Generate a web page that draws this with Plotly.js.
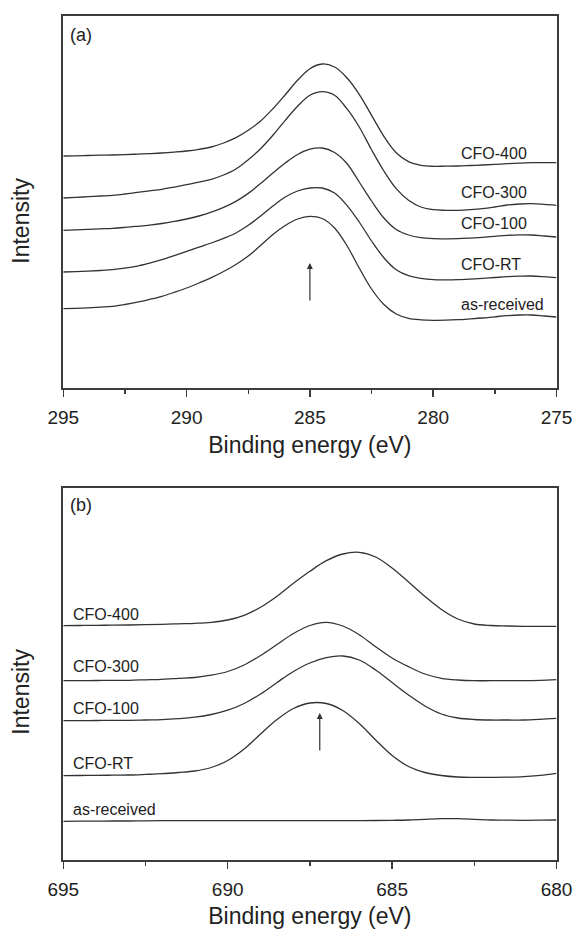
<!DOCTYPE html>
<html>
<head>
<meta charset="utf-8">
<script src="https://cdn.plot.ly/plotly-3.0.1.min.js"></script>
<style>html,body{margin:0;padding:0;background:#fff;}#chart{width:575px;height:929px;}</style>
</head>
<body>
<div id="chart"></div>
<script>
// ---------- Panel (a): C 1s ----------
var energyA = [295, 294.5, 294, 293.5, 293, 292.5, 292, 291.5, 291, 290.5, 290, 289.5, 289, 288.5, 288, 287.5, 287, 286.5, 286, 285.5, 285, 284.5, 284, 283.5, 283, 282.5, 282, 281.5, 281, 280.5, 280, 279.5, 279, 278.5, 278, 277.5, 277, 276.5, 276, 275.5, 275];
var aCFO400 = [232.0, 232.2, 232.5, 232.8, 233.0, 233.4, 233.9, 234.4, 235.0, 235.9, 237.0, 238.7, 241.0, 245.0, 250.3, 257.7, 267.0, 279.3, 293.3, 307.7, 319.3, 324.0, 321.0, 310.3, 293.7, 272.7, 251.7, 235.3, 226.3, 222.7, 221.7, 221.8, 222.0, 222.5, 223.0, 223.6, 224.3, 224.9, 225.3, 225.4, 225.3];
var aCFO300 = [190.0, 190.6, 191.3, 192.0, 192.7, 194.0, 195.6, 197.1, 198.7, 200.9, 203.3, 205.8, 208.7, 213.0, 219.0, 228.3, 239.3, 252.7, 267.7, 281.7, 292.7, 296.3, 292.7, 279.3, 261.0, 238.3, 217.0, 199.3, 187.7, 181.0, 178.3, 177.7, 177.7, 178.3, 179.3, 181.0, 183.0, 184.0, 184.3, 183.6, 182.7];
var aCFO100 = [157.7, 158.2, 158.7, 159.2, 159.7, 160.6, 161.7, 162.9, 164.5, 166.6, 169.0, 172.0, 175.8, 180.6, 186.6, 194.6, 204.5, 215.0, 225.0, 233.5, 238.8, 240.0, 235.5, 224.5, 206.0, 187.0, 170.0, 158.5, 153.0, 150.3, 149.3, 149.2, 149.3, 149.9, 150.7, 151.7, 152.7, 153.1, 153.0, 152.0, 151.0];
var aCFORT  = [116.0, 116.4, 116.9, 117.5, 118.3, 119.8, 121.9, 124.9, 128.3, 132.4, 136.7, 140.9, 145.0, 149.7, 155.0, 162.7, 172.0, 182.0, 191.0, 197.0, 200.0, 200.0, 195.0, 182.7, 166.0, 147.0, 130.3, 118.3, 112.3, 109.7, 108.3, 108.1, 108.3, 108.9, 109.7, 110.5, 111.3, 111.8, 112.0, 111.3, 110.3];
var aAsRec  = [79.3, 79.7, 80.2, 80.9, 81.7, 83.5, 85.8, 88.6, 91.7, 95.7, 100.0, 105.0, 110.3, 116.5, 123.5, 132.0, 142.5, 153.5, 162.5, 169.0, 171.7, 169.5, 160.0, 142.5, 120.0, 99.0, 83.5, 74.0, 69.7, 68.2, 67.7, 67.8, 68.3, 69.1, 70.0, 71.2, 72.3, 73.0, 73.0, 72.0, 71.0];

// ---------- Panel (b): F 1s ----------
var energyB = [695, 694.5, 694, 693.5, 693, 692.5, 692, 691.5, 691, 690.5, 690, 689.5, 689, 688.5, 688, 687.5, 687, 686.5, 686, 685.5, 685, 684.5, 684, 683.5, 683, 682.5, 682, 681.5, 681, 680.5, 680];
var bCFO400 = [234.3, 234.5, 234.7, 234.8, 235.0, 235.3, 235.7, 236.2, 236.7, 237.7, 240.0, 244.7, 252.7, 263.7, 276.7, 288.7, 299.3, 306.0, 307.7, 303.0, 292.0, 278.0, 263.5, 250.5, 241.0, 236.0, 234.5, 234.0, 233.7, 233.7, 233.7];
var bCFO300 = [179.3, 179.4, 179.5, 179.6, 179.7, 180.2, 180.7, 181.6, 182.5, 184.8, 188.5, 195.0, 204.5, 215.5, 226.5, 234.5, 237.7, 234.0, 225.3, 213.3, 202.0, 193.3, 186.0, 181.7, 180.0, 179.3, 179.3, 179.3, 179.3, 179.6, 180.3];
var bCFO100 = [139.3, 139.4, 139.5, 139.6, 139.7, 140.0, 140.3, 141.3, 142.8, 145.5, 149.8, 156.5, 166.0, 177.5, 188.5, 197.0, 202.3, 204.0, 200.0, 190.0, 177.5, 165.0, 154.0, 146.0, 142.0, 140.5, 140.0, 140.0, 140.0, 140.7, 141.7];
var bCFORT  = [84.3, 84.5, 84.6, 84.8, 85.0, 85.6, 86.3, 87.5, 89.0, 92.5, 99.5, 111.0, 126.0, 140.5, 151.5, 157.0, 156.5, 149.5, 136.5, 120.0, 104.5, 93.5, 87.5, 84.5, 83.0, 82.7, 82.7, 82.8, 83.3, 84.7, 86.7];
var bAsRec  = [38.7, 38.8, 38.9, 39.0, 39.0, 39.2, 39.3, 39.3, 39.3, 39.3, 39.3, 39.3, 39.3, 39.3, 39.3, 39.3, 39.3, 39.3, 39.4, 39.5, 39.7, 40.0, 40.7, 41.3, 41.3, 40.7, 40.0, 39.8, 39.7, 39.8, 40.0];

var seriesNames = ["CFO-400", "CFO-300", "CFO-100", "CFO-RT", "as-received"];
var labelYA = [235, 196, 165, 124, 84];
var labelYB = [246, 194, 152, 97, 51];
var arrowA = {x: 285.0, tail: 86, head: 125};
var arrowB = {x: 687.2, tail: 108, head: 147};
var xTicksA = [295, 290, 285, 280, 275];
var xTicksB = [695, 690, 685, 680];

var FONT = "Liberation Sans, Arial, Helvetica, sans-serif";
var INK = "#222222";
var LINE = "#333333";
var AXC = "#3c3c3c";

var seriesA = [aCFO400, aCFO300, aCFO100, aCFORT, aAsRec];
var seriesB = [bCFO400, bCFO300, bCFO100, bCFORT, bAsRec];
var traces = [];
seriesA.forEach(function (ys, i) {
  traces.push({x: energyA, y: ys, name: seriesNames[i], type: "scatter", mode: "lines",
    line: {color: LINE, width: 1.3, shape: "spline", smoothing: 1}, xaxis: "x", yaxis: "y", hoverinfo: "skip"});
});
seriesB.forEach(function (ys, i) {
  traces.push({x: energyB, y: ys, name: seriesNames[i], type: "scatter", mode: "lines",
    line: {color: LINE, width: 1.3, shape: "spline", smoothing: 1}, xaxis: "x2", yaxis: "y2", hoverinfo: "skip"});
});

function xAxis(range, ticks) {
  return {
    domain: [63.3 / 575, 556.5 / 575], range: range, autorange: false,
    tickvals: ticks, ticktext: ticks.map(String), ticks: "outside", ticklen: 7, tickwidth: 1.5, tickcolor: AXC,
    minor: {dtick: 2.5, ticks: "outside", ticklen: 4, tickwidth: 1.5, tickcolor: AXC, showgrid: false},
    showline: true, linecolor: AXC, linewidth: 2, mirror: true, showgrid: false, zeroline: false,
    tickfont: {family: FONT, size: 19, color: INK}, ticklabelstandoff: 4,
    title: {text: "Binding energy (eV)", font: {family: FONT, size: 23, color: INK}, standoff: 10}
  };
}
function yAxis(range, domain) {
  return {domain: domain, range: range, autorange: false, showticklabels: false, ticks: "",
    showline: true, linecolor: AXC, linewidth: 2, mirror: true, showgrid: false, zeroline: false};
}

var annotations = [];
seriesNames.forEach(function (n, i) {
  annotations.push({x: 278.95, y: labelYA[i], xref: "x", yref: "y", text: n, showarrow: false,
    xanchor: "left", yanchor: "middle", font: {family: FONT, size: 16, color: INK}});
  annotations.push({x: 694.76, y: labelYB[i], xref: "x2", yref: "y2", text: n, showarrow: false,
    xanchor: "left", yanchor: "middle", font: {family: FONT, size: 16, color: INK}});
});
annotations.push({x: arrowA.x, y: arrowA.head, ax: arrowA.x, ay: arrowA.tail, xref: "x", yref: "y", axref: "x", ayref: "y",
  text: "", showarrow: true, arrowhead: 2, arrowsize: 1, arrowwidth: 1.2, arrowcolor: LINE});
annotations.push({x: arrowB.x, y: arrowB.head, ax: arrowB.x, ay: arrowB.tail, xref: "x2", yref: "y2", axref: "x2", ayref: "y2",
  text: "", showarrow: true, arrowhead: 2, arrowsize: 1, arrowwidth: 1.2, arrowcolor: LINE});
annotations.push({x: 68 / 575, y: 1 - 35 / 929, xref: "paper", yref: "paper", text: "(a)", showarrow: false,
  xanchor: "left", yanchor: "middle", font: {family: FONT, size: 18, color: INK}});
annotations.push({x: 68 / 575, y: 1 - 505 / 929, xref: "paper", yref: "paper", text: "(b)", showarrow: false,
  xanchor: "left", yanchor: "middle", font: {family: FONT, size: 18, color: INK}});
annotations.push({x: 20.7 / 575, y: 1 - 221 / 929, xref: "paper", yref: "paper", text: "Intensity", showarrow: false,
  textangle: -90, xanchor: "center", yanchor: "middle", font: {family: FONT, size: 23, color: INK}});
annotations.push({x: 20.7 / 575, y: 1 - 692 / 929, xref: "paper", yref: "paper", text: "Intensity", showarrow: false,
  textangle: -90, xanchor: "center", yanchor: "middle", font: {family: FONT, size: 23, color: INK}});

var layout = {
  width: 575, height: 929, margin: {l: 0, r: 0, t: 0, b: 0}, paper_bgcolor: "#fff", plot_bgcolor: "#fff",
  showlegend: false, hovermode: false,
  xaxis: xAxis([295, 275], xTicksA),
  yaxis: yAxis([0, 372.3], [1 - 388 / 929, 1 - 15.7 / 929]),
  xaxis2: xAxis([695, 680], xTicksB),
  yaxis2: yAxis([0, 371.7], [1 - 860 / 929, 1 - 488.3 / 929]),
  annotations: annotations
};
layout.xaxis.anchor = "y";
layout.yaxis.anchor = "x";
layout.xaxis2.anchor = "y2";
layout.yaxis2.anchor = "x2";

Plotly.newPlot("chart", traces, layout, {displayModeBar: false, staticPlot: true});
</script>
</body>
</html>
